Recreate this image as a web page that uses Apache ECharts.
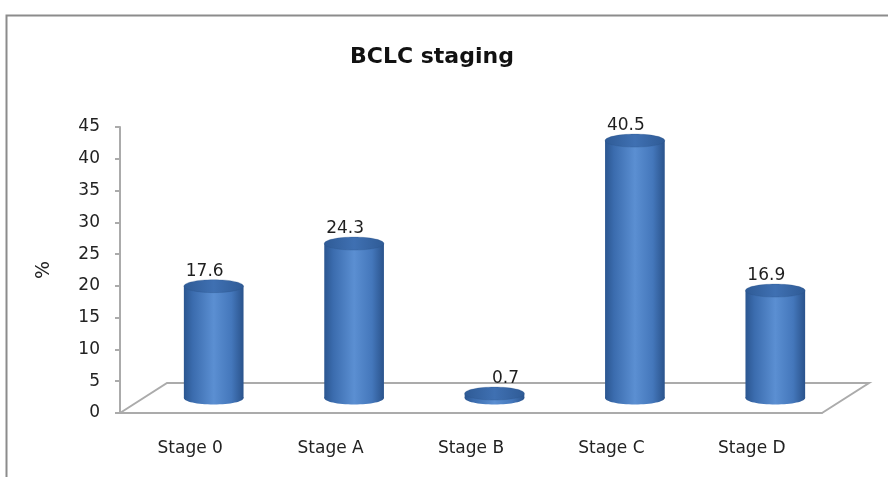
<!DOCTYPE html>
<html>
<head>
<meta charset="utf-8">
<script src="https://cdn.jsdelivr.net/npm/echarts@6/dist/echarts.min.js"></script>
<style>
html,body{margin:0;padding:0;background:#fff;}
#chart{width:888px;height:477px;}
</style>
</head>
<body>
<div id="chart"></div>
<script>
// ---- data ----
const categories = ['Stage 0', 'Stage A', 'Stage B', 'Stage C', 'Stage D'];
const values = [17.6, 24.3, 0.7, 40.5, 16.9];
const yMin = 0, yMax = 45, yStep = 5;
const chartTitle = 'BCLC staging';
const yAxisTitle = '%';

// ---- styling constants ----
const DEPTH_X = 47, DEPTH_Y = -30;   // 3D floor depth
const FONT = '"DejaVu Sans", "Open Sans", sans-serif';
const GRAY = '#ababab';

const chart = echarts.init(document.getElementById('chart'));

function renderFloor(params, api) {
  const band = api.size([1, 0])[0];
  const p0 = api.coord([0, 0]);
  const p1 = api.coord([categories.length - 1, 0]);
  const fl = [p0[0] - band / 2, p0[1]];
  const fr = [p1[0] + band / 2, p1[1]];
  return {
    type: 'polyline',
    shape: { points: [fl, [fl[0] + DEPTH_X, fl[1] + DEPTH_Y], [fr[0] + DEPTH_X, fr[1] + DEPTH_Y], fr] },
    style: { stroke: GRAY, lineWidth: 2, fill: null },
    z2: 0
  };
}

function renderCylinder(params, api) {
  const i = api.value(0);
  const v = api.value(1);
  const base = api.coord([i, 0]);
  const top = api.coord([i, v]);
  const band = api.size([1, 0])[0];
  const w = band * 0.425, rx = w / 2, ry = 6.5;
  const cx = base[0] + DEPTH_X / 2;
  const by = base[1] + DEPTH_Y / 2;
  const ty = top[1] + DEPTH_Y / 2;
  const bodyGrad = new echarts.graphic.LinearGradient(0, 0, 1, 0, [
    { offset: 0, color: '#2b5690' },
    { offset: 0.15, color: '#3b6cae' },
    { offset: 0.5, color: '#5b8fd2' },
    { offset: 0.8, color: '#4477bb' },
    { offset: 1, color: '#2a538c' }
  ]);
  const topGrad = new echarts.graphic.LinearGradient(0, 0, 1, 0, [
    { offset: 0, color: '#2f5b96' },
    { offset: 0.5, color: '#3f70b2' },
    { offset: 1, color: '#2f5b96' }
  ]);
  const labelShift = v < 2 ? 11 : -9;
  return {
    type: 'group',
    children: [
      { type: 'ellipse', shape: { cx: cx, cy: by, rx: rx, ry: ry }, style: { fill: bodyGrad } },
      { type: 'rect', shape: { x: cx - rx, y: ty, width: w, height: Math.max(by - ty, 0) }, style: { fill: bodyGrad } },
      { type: 'ellipse', shape: { cx: cx, cy: ty, rx: rx, ry: ry }, style: { fill: topGrad, stroke: 'rgba(40,80,130,0.5)', lineWidth: 0.5 } },
      { type: 'text', x: cx + labelShift, y: ty - ry,
        style: { text: String(v), fill: '#1f1f1f', font: '17px ' + FONT, align: 'center', verticalAlign: 'bottom' } }
    ]
  };
}

const option = {
  backgroundColor: '#fff',
  animation: false,
  title: {
    text: chartTitle,
    left: 345,
    top: 41,
    textStyle: { fontFamily: FONT, fontSize: 22, fontWeight: 'bold', color: '#111' }
  },
  graphic: [
    { type: 'rect', left: 4, top: 13, shape: { width: 1000, height: 1000 },
      style: { fill: null, stroke: '#8c8c8c', lineWidth: 2 }, silent: true }
  ],
  grid: { left: 120, top: 127, width: 702, height: 286, outerBoundsMode: 'none' },
  xAxis: {
    type: 'category',
    data: categories,
    axisLine: { show: true, lineStyle: { color: GRAY, width: 2 } },
    axisTick: { show: false },
    axisLabel: { margin: 27, fontFamily: FONT, fontSize: 17, color: '#222' },
    splitLine: { show: false }
  },
  yAxis: {
    type: 'value',
    min: yMin, max: yMax, interval: yStep,
    name: yAxisTitle,
    nameLocation: 'middle',
    nameRotate: 90,
    nameGap: 66,
    nameTextStyle: { fontFamily: FONT, fontSize: 19, color: '#222' },
    axisLine: { show: true, lineStyle: { color: GRAY, width: 2 } },
    axisTick: { show: true, length: 5, lineStyle: { color: GRAY, width: 2 } },
    axisLabel: { margin: 20, fontFamily: FONT, fontSize: 17, color: '#222' },
    splitLine: { show: false }
  },
  series: [
    {
      type: 'custom',
      silent: true,
      renderItem: renderFloor,
      data: [[0, 0]],
      encode: { x: 0, y: 1 },
      z: 1
    },
    {
      type: 'custom',
      silent: true,
      renderItem: renderCylinder,
      data: values.map((v, i) => [i, v]),
      encode: { x: 0, y: 1 },
      z: 2
    }
  ]
};
chart.setOption(option);
</script>
</body>
</html>
